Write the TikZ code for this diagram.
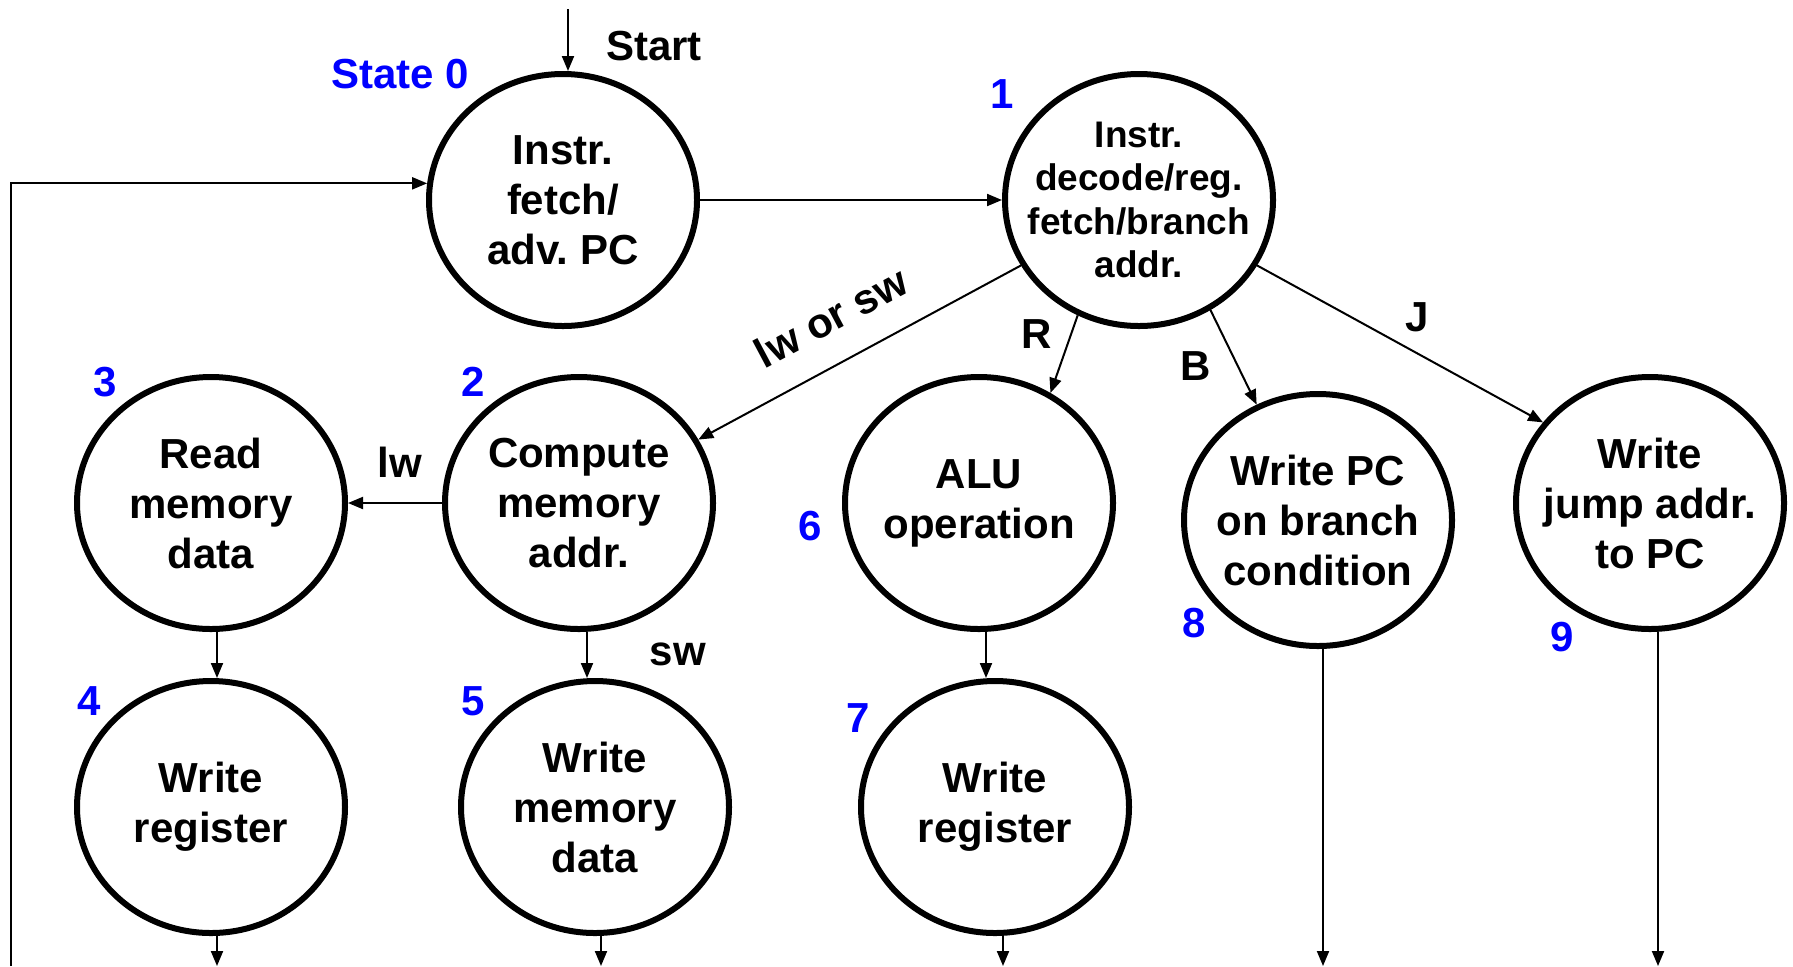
\documentclass[tikz,border=0pt]{standalone}
\usepackage{fontspec}
\setmainfont{Liberation Sans}
\usetikzlibrary{shapes.geometric,arrows.meta}
\begin{document}
\begin{tikzpicture}[x=0.5pt,y=-0.5pt]
        \tikzstyle{state}=[ellipse,line width=3pt,draw=black,minimum width=134pt,minimum height=126pt,inner xsep=-12pt,inner ysep=0pt,align=center,font=\bfseries\fontsize{21}{25}\selectfont]
        \tikzstyle{edge}=[draw,line width=1pt,-{Triangle[length=7.5pt,width=6pt]}]
        \tikzstyle{num}=[text=blue,font=\bfseries\fontsize{21}{25}\selectfont]
        \tikzstyle{cond}=[font=\bfseries\fontsize{21}{25}\selectfont]
        \useasboundingbox (0,0) rectangle (1793,966);
        % states
        \node [state] (s0) at (563,200) {Instr.\\fetch/\\adv.\ PC};
        \node [state,font=\bfseries\fontsize{18.5}{21.75}\selectfont] (s1) at (1139,200) {Instr.\\decode/reg.\\fetch/branch\\addr.};
        \node [state] (s2) at (579,503) {Compute\\memory\\addr.};
        \node [state] (s3) at (211,503) {Read\\memory\\data};
        \node [state] (s4) at (211,807) {Write\\register};
        \node [state] (s5) at (595,807) {Write\\memory\\data};
        \node [state] (s6) at (979,503) {ALU\\operation};
        \node [state] (s7) at (995,807) {Write\\register};
        \node [state] (s8) at (1318,520) {Write PC\\on branch\\condition};
        \node [state] (s9) at (1650,503) {Write\\jump addr.\\to PC};
        % state numbers
        \node [num] (n0) at (400,74) {State 0};
        \node [num] (n1) at (1002,94) {1};
        \node [num] (n2) at (473,382) {2};
        \node [num] (n3) at (105,382) {3};
        \node [num] (n4) at (89,701) {4};
        \node [num] (n5) at (473,701) {5};
        \node [num] (n6) at (810,526) {6};
        \node [num] (n7) at (858,718) {7};
        \node [num] (n8) at (1194,623) {8};
        \node [num] (n9) at (1562,637) {9};
        % conditions
        \node [cond] (start) at (654,46) {Start};
        \node [cond,rotate=28] (lwsw) at (831,317) {lw or sw};
        \node [cond] (cr) at (1037,334) {R};
        \node [cond] (cb) at (1196,366) {B};
        \node [cond] (cj) at (1417,317) {J};
        \node [cond] (clw) at (400,462) {lw};
        \node [cond] (csw) at (678,654) {sw};
        % free ends
        \coordinate (in0) at (568,9);
        \coordinate (back) at (11,966);
        \coordinate (out4) at (217,966);
        \coordinate (out5) at (601,966);
        \coordinate (out7) at (1003,966);
        \coordinate (out8) at (1323,966);
        \coordinate (out9) at (1658,966);
        % transitions
        \path[edge] (in0) -- ([xshift=2.5pt]s0.north);
        \path[edge] (back) |- (s0.173);
        \path[edge] (s0) -- (s1);
        \path[edge] (s1.209) -- (s2.28);
        \path[edge] (s1.242) -- (s6.57);
        \path[edge] (s1.303) -- (s8.118);
        \path[edge] (s1.331) -- (s9.143);
        \path[edge] (s2) -- (s3);
        \path[edge] ([xshift=3pt]s3.south) -- ([xshift=3pt]s4.north);
        \path[edge] ([xshift=4pt]s2.south) -- ([xshift=-4pt]s5.north);
        \path[edge] ([xshift=3.5pt]s6.south) -- ([xshift=-4.5pt]s7.north);
        \path[edge] ([xshift=3pt]s4.south) -- (out4);
        \path[edge] ([xshift=3pt]s5.south) -- (out5);
        \path[edge] ([xshift=4pt]s7.south) -- (out7);
        \path[edge] ([xshift=2.5pt]s8.south) -- (out8);
        \path[edge] ([xshift=4pt]s9.south) -- (out9);
\end{tikzpicture}
\end{document}
